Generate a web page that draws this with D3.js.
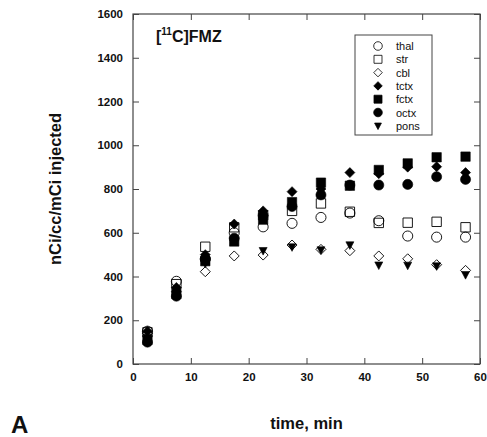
<!DOCTYPE html>
<meta charset="utf-8">
<html>
<head>
<style>
  body { margin: 0; background: #fff; }
  text { font-family: "Liberation Sans", Arial, sans-serif; }
</style>
</head>
<body>
<div id="chart"></div>
<script src="https://d3js.org/d3.v7.min.js"></script>
<script>
// time points (min)
var times = [2.5, 7.5, 12.5, 17.5, 22.5, 27.5, 32.5, 37.5, 42.5, 47.5, 52.5, 57.5];

// nCi/cc/mCi injected, per region
var thal = [150, 378, 480, 600, 627, 643, 670, 690, 655, 585, 580, 580];
var str  = [145, 365, 536, 625, 680, 700, 734, 696, 645, 646, 650, 625];
var cbl  = [140, 330, 422, 494, 498, 544, 524, 518, 494, 481, 454, 428];
var tctx = [150, 350, 500, 640, 700, 788, 800, 875, 870, 900, 902, 875];
var fctx = [110, 320, 470, 560, 660, 740, 829, 815, 887, 917, 945, 948];
var octx = [100, 310, 480, 575, 680, 720, 773, 818, 818, 821, 856, 844];
var pons = [120, 330, 460, 560, 518, 535, 521, 544, 452, 451, 448, 408];

var xTicks = [0, 10, 20, 30, 40, 50, 60];
var yTicks = [0, 200, 400, 600, 800, 1000, 1200, 1400, 1600];

var series = [
  {name: "thal", values: thal, shape: "circle",   filled: false},
  {name: "str",  values: str,  shape: "square",   filled: false},
  {name: "cbl",  values: cbl,  shape: "diamond",  filled: false},
  {name: "tctx", values: tctx, shape: "diamond",  filled: true},
  {name: "fctx", values: fctx, shape: "square",   filled: true},
  {name: "octx", values: octx, shape: "circle",   filled: true},
  {name: "pons", values: pons, shape: "triangle", filled: true}
];

var W = 487, H = 437;
var margin = {top: 14, right: 7, bottom: 73, left: 133};
var width = W - margin.left - margin.right,
    height = H - margin.top - margin.bottom;

var svg = d3.select("#chart").append("svg")
  .attr("width", W).attr("height", H);

var g = svg.append("g")
  .attr("transform", "translate(" + margin.left + "," + margin.top + ")");

var x = d3.scaleLinear().domain([0, 60]).range([0, width]);
var y = d3.scaleLinear().domain([0, 1600]).range([height, 0]);

var axisColor = "#444";

// frame
g.append("rect")
  .attr("width", width).attr("height", height)
  .attr("fill", "none").attr("stroke", axisColor).attr("stroke-width", 1.2);

// inward ticks on all sides
function styleAxis(sel) {
  sel.select(".domain").remove();
  sel.selectAll(".tick line").attr("stroke", axisColor).attr("stroke-width", 1);
  sel.selectAll("text")
    .attr("fill", "#111")
    .style("font-size", "11.5px")
    .style("font-weight", "bold");
}

var fmt = d3.format("d");

g.append("g").attr("transform", "translate(0," + height + ")")
  .call(d3.axisBottom(x).tickValues(xTicks).tickFormat(fmt).tickSizeInner(-6).tickPadding(9))
  .call(styleAxis);
g.append("g")
  .call(d3.axisTop(x).tickValues(xTicks).tickSizeInner(-6).tickFormat(""))
  .call(styleAxis);
g.append("g")
  .call(d3.axisLeft(y).tickValues(yTicks).tickFormat(fmt).tickSizeInner(-6).tickPadding(10))
  .call(styleAxis);
g.append("g").attr("transform", "translate(" + width + ",0)")
  .call(d3.axisRight(y).tickValues(yTicks).tickSizeInner(-6).tickFormat(""))
  .call(styleAxis);

// marker shapes
function symPath(shape, scale) {
  scale = scale || 1;
  if (shape == "circle") return d3.symbol(d3.symbolCircle, 80 * scale * scale)();
  if (shape == "square") return d3.symbol(d3.symbolSquare, 88 * scale * scale)();
  if (shape == "diamond") {
    var r = 5 * scale;
    return "M0," + (-r) + "L" + r + ",0L0," + r + "L" + (-r) + ",0Z";
  }
  // down-pointing triangle
  var a = 4 * scale;
  return "M" + (-a) + "," + (-a * 0.8) + "L" + a + "," + (-a * 0.8) + "L0," + (a * 1.1) + "Z";
}

series.forEach(function(s) {
  g.append("g").selectAll("path")
    .data(s.values)
    .enter()
    .append("path")
    .attr("transform", function(d, i) { return "translate(" + x(times[i]) + "," + y(d) + ")"; })
    .attr("d", symPath(s.shape))
    .attr("fill", s.filled ? "#000" : "none")
    .attr("stroke", "#000")
    .attr("stroke-width", s.filled ? 0.6 : 0.9);
});

// title inside plot
var title = g.append("text")
  .attr("x", 23).attr("y", 28)
  .style("font-size", "16px").style("font-weight", "bold")
  .attr("fill", "#111");
title.append("tspan").text("[");
title.append("tspan").attr("dy", -7).style("font-size", "10px").text("11");
title.append("tspan").attr("dy", 7).text("C]FMZ");

// legend
var lg = svg.append("g").attr("transform", "translate(355,35)");
lg.append("rect")
  .attr("width", 77).attr("height", 100)
  .attr("fill", "#fff").attr("stroke", axisColor).attr("stroke-width", 1);
series.forEach(function(s, i) {
  var row = lg.append("g").attr("transform", "translate(23," + (11 + i * 13.3) + ")");
  row.append("path")
    .attr("d", symPath(s.shape, 0.85))
    .attr("fill", s.filled ? "#000" : "none")
    .attr("stroke", "#000").attr("stroke-width", 0.8);
  row.append("text")
    .attr("x", 18).attr("y", 4)
    .style("font-size", "11px").attr("fill", "#111")
    .text(s.name);
});

// axis titles
svg.append("text")
  .attr("x", margin.left + width / 2).attr("y", 429)
  .attr("text-anchor", "middle")
  .style("font-size", "16.5px").style("font-weight", "bold")
  .attr("fill", "#111")
  .text("time, min");

svg.append("text")
  .attr("transform", "translate(61," + (margin.top + height / 2) + ") rotate(-90)")
  .attr("text-anchor", "middle")
  .style("font-size", "16.5px").style("font-weight", "bold")
  .attr("fill", "#111")
  .text("nCi/cc/mCi injected");

// panel letter
svg.append("text")
  .attr("x", 11).attr("y", 433)
  .style("font-size", "24px").style("font-weight", "bold")
  .attr("fill", "#111")
  .text("A");
</script>
</body>
</html>
